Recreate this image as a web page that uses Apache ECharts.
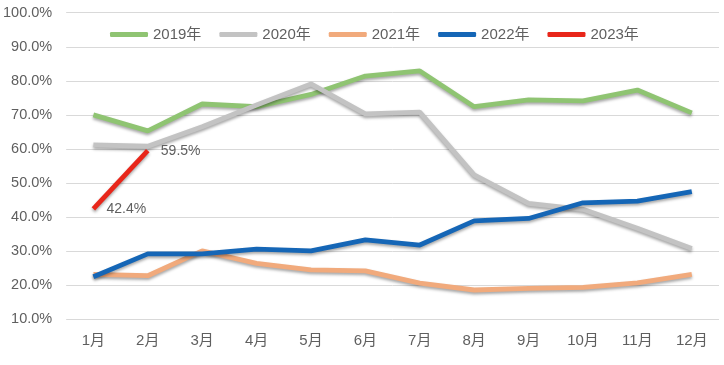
<!DOCTYPE html>
<html><head><meta charset="utf-8">
<script src="https://cdn.jsdelivr.net/npm/echarts@6/dist/echarts.min.js"></script>
<style>html,body{margin:0;padding:0;background:#fff}#c{width:724px;height:365px}</style>
</head><body><div id="c"></div>
<script>
const months = ['1月','2月','3月','4月','5月','6月','7月','8月','9月','10月','11月','12月'];
const seriesNames = ['2019年','2020年','2021年','2022年','2023年'];
const s2019 = [70.0,65.3,73.2,72.4,76.0,81.4,82.9,72.4,74.4,74.1,77.3,70.6];
const s2020 = [61.2,60.8,66.5,72.9,79.1,70.3,70.8,52.4,44.0,42.3,36.7,30.8];
const s2021 = [23.2,22.8,30.1,26.4,24.5,24.2,20.6,18.6,19.1,19.4,20.7,23.2];
const s2022 = [22.5,29.2,29.2,30.6,30.1,33.3,31.8,38.9,39.6,44.2,44.7,47.5];
const s2023 = [42.4,59.5];
const colors = ['#8fc472','#c3c3c3','#f1aa7c','#1566b6','#e8261a'];
const font = "'Liberation Sans','Noto Sans CJK SC',sans-serif";
const txt = '#5f5f5f';
const chart = echarts.init(document.getElementById('c'));
const mk = (i, data, extra) => Object.assign({
  name: seriesNames[i], type: 'line', data: data, symbol: 'none', smooth: false,
  lineStyle: {width: 4.8, color: colors[i], shadowColor: 'rgba(0,0,0,0.35)', shadowBlur: 3, shadowOffsetY: 2},
  itemStyle: {color: colors[i]}
}, extra || {});
chart.setOption({
  animation: false,
  grid: {left: 62, right: 5, top: 12.7, bottom: 45.7},
  legend: {
    top: 22, left: 105, itemWidth: 38, itemHeight: 5, itemGap: 18, icon: 'roundRect',
    textStyle: {color: txt, fontSize: 15, fontFamily: font},
    data: seriesNames
  },
  xAxis: {
    type: 'category', data: months, boundaryGap: true,
    axisLine: {show: false}, axisTick: {show: false},
    axisLabel: {color: txt, fontSize: 15, fontFamily: font, margin: 14}
  },
  yAxis: {
    type: 'value', min: 10, max: 100, interval: 10,
    axisLine: {show: false}, axisTick: {show: false},
    splitLine: {lineStyle: {color: '#d9d9d9', width: 1}},
    axisLabel: {color: txt, fontSize: 14.5, fontFamily: font, margin: 14, formatter: v => v.toFixed(1) + '%'}
  },
  series: [
    mk(0, s2019), mk(1, s2020), mk(2, s2021), mk(3, s2022),
    mk(4, s2023, {symbol: 'circle', symbolSize: 0.1, showSymbol: true,
      label: {show: true, position: 'right', distance: 13, color: txt, fontSize: 14, fontFamily: font, formatter: p => p.value.toFixed(1) + '%'}})
  ]
});
</script></body></html>
